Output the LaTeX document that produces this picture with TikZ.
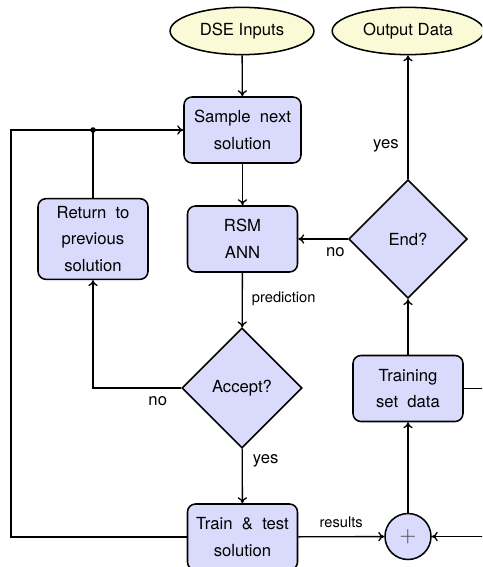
\documentclass[tikz,border=0pt]{standalone}
\usepackage{fontspec}
\setmainfont{TeX Gyre Heros}
\usetikzlibrary{shapes.geometric,arrows.meta}
\definecolor{boxfill}{RGB}{218,218,252}
\definecolor{ellfill}{RGB}{250,250,214}
\tikzset{
  every node/.style={font=\fontsize{12.5}{20}\selectfont},
  proc/.style={draw, line width=1.15pt, fill=boxfill, rounded corners=6pt, align=center,
    minimum width=82.5pt, minimum height=49.5pt, inner sep=5.6pt},
  decis/.style={draw, line width=1.15pt, fill=boxfill, diamond, aspect=1, inner sep=0pt,
    minimum size=89pt},
  term/.style={draw, line width=1.15pt, fill=ellfill, ellipse, inner sep=6.5pt},
  summ/.style={draw, line width=1.15pt, fill=boxfill, circle, inner sep=0pt, minimum size=34.5pt},
  arr/.style={line width=1pt, -{To[length=4.5pt,width=7pt]}},
  ln/.style={line width=1pt},
  lbl/.style={inner sep=0pt, anchor=center},
  slbl/.style={inner sep=0pt, font=\fontsize{11}{13}\selectfont},
}
\begin{document}
\begin{tikzpicture}[x=0.75pt, y=-0.75pt]
\useasboundingbox (0,0) rectangle (482,567);
\clip (0,0) rectangle (482,567);
\node[term] (dse) at (242,31) {DSE Inputs};
\node[term] (out) at (408,31) {Output Data};
\node[proc, minimum width=87.75pt] (sample) at (242.5,130) {Sample\ \ next\\solution};
\node[proc] (ret) at (93,239) {Return\ \ to\\previous\\solution};
\node[proc] (rsm) at (242.5,239) {RSM\\ANN};
\node[decis] (endd) at (408,239) {End?};
\node[decis, minimum size=90pt] (accept) at (242,388) {Accept?};
\node[proc] (trainset) at (408,388.5) {Training\\set\ \ data};
\node[proc] (train) at (242.5,537) {Train\ \ \&\ \ test\\solution};
\node[summ] (plus) at (408,536.5) {\fontsize{18}{18}\selectfont\color{black!75}$+$};
\fill (93,130) circle (2.8) coordinate (dot);
\coordinate (fbk) at (11,130);
\coordinate (rt) at (500,388.5);

\draw[arr] (dse) -- (sample);
\draw[arr] (sample) -- (rsm);
\draw[arr] (rsm) -- node[slbl, pos=0.48, anchor=west, xshift=6.75pt] (lpred) {prediction} (accept);
\draw[arr] (accept) -- node[lbl, pos=0.23, anchor=west, xshift=7.5pt] (lyes1) {yes} (train);
\draw[arr] (accept.west) -| node[lbl, pos=0.133, yshift=-9.75pt] (lno1) {no} (ret.south);
\draw[ln] (ret.north) -- (dot);
\draw[arr] (train.west) -| (fbk) -- (sample.west);
\draw[arr] (train) -- node[slbl, pos=0.5, yshift=10.5pt] (lres) {results} (plus);
\draw[arr] (plus) -- (trainset);
\draw[arr] (trainset) -- (endd);
\draw[arr] (endd) -- node[lbl, pos=0.25, yshift=-9.75pt] (lno2) {no} (rsm);
\draw[arr] (endd) -- node[lbl, pos=0.27, xshift=-16.5pt] (lyes2) {yes} (out);
\draw[arr] (trainset.east) -- (rt) |- (plus.east);
\end{tikzpicture}
\end{document}
